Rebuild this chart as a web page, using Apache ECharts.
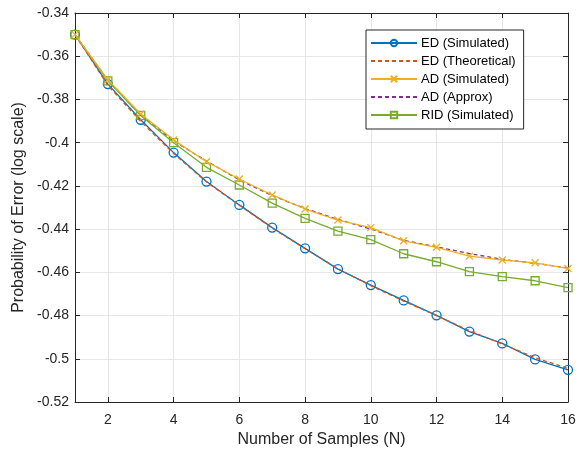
<!DOCTYPE html>
<html>
<head>
<meta charset="utf-8">
<script src="https://cdn.jsdelivr.net/npm/echarts@6/dist/echarts.min.js"></script>
<style>html,body{margin:0;padding:0;background:#fff}#c{width:581px;height:449px}</style>
</head>
<body>
<div id="c"></div>
<script>
const N = [1,2,3,4,5,6,7,8,9,10,11,12,13,14,15,16];
const xTicks = [2,4,6,8,10,12,14,16];
const edSim = [-0.350,-0.3729,-0.3894,-0.4046,-0.4180,-0.4288,-0.4393,-0.4489,-0.4585,-0.4659,-0.4730,-0.4799,-0.4874,-0.4929,-0.5003,-0.5051];
const edTheo = [-0.350,-0.3735,-0.3902,-0.4050,-0.4182,-0.4290,-0.4395,-0.4491,-0.4583,-0.4662,-0.4733,-0.4800,-0.4870,-0.4932,-0.4995,-0.5045];
const adSim = [-0.350,-0.3709,-0.3867,-0.3987,-0.4088,-0.4168,-0.4242,-0.4307,-0.4358,-0.4393,-0.4454,-0.4484,-0.4525,-0.4543,-0.4556,-0.4582];
const adApprox = [-0.350,-0.3712,-0.3872,-0.3992,-0.4085,-0.4172,-0.4245,-0.4305,-0.4355,-0.4400,-0.4452,-0.4482,-0.4513,-0.4540,-0.4558,-0.4580];
const ridSim = [-0.350,-0.3714,-0.3874,-0.4000,-0.4114,-0.4196,-0.4280,-0.4350,-0.4409,-0.4449,-0.4514,-0.4551,-0.4597,-0.4620,-0.4639,-0.4671];

const font = 'Helvetica, Arial, "Liberation Sans", sans-serif';
const pair = a => N.map((n,i)=>[n,a[i]]);
const chart = echarts.init(document.getElementById('c'));
const axisLine = {show:true, lineStyle:{color:'#262626', width:1}};
const xBase = {type:'value', min:1, max:16, gridIndex:0,
  axisTick:{show:true, inside:true, length:5, customValues:xTicks, lineStyle:{color:'#262626'}},
  axisLine: axisLine};
const yBase = {type:'value', min:-0.52, max:-0.34, interval:0.02,
  axisTick:{show:true, inside:true, length:5, lineStyle:{color:'#262626'}},
  axisLine: axisLine};
chart.setOption({
  animation:false,
  backgroundColor:'#fff',
  textStyle:{fontFamily:font},
  grid:{left:75, right:13, top:13, bottom:47, containLabel:false, outerBoundsMode:'none'},
  xAxis:[
    Object.assign({}, xBase, {position:'bottom',
      name:'Number of Samples (N)', nameLocation:'middle', nameGap:29,
      nameTextStyle:{fontSize:16, color:'#262626', fontFamily:font},
      axisLabel:{show:true, customValues:xTicks, fontSize:14, color:'#262626', margin:11, fontFamily:font},
      splitLine:{show:true, lineStyle:{color:'#e6e6e6', width:1}}}),
    Object.assign({}, xBase, {position:'top', axisLabel:{show:false}, splitLine:{show:false}})
  ],
  yAxis:[
    Object.assign({}, yBase, {position:'left',
      name:'Probability of Error (log scale)', nameLocation:'middle', nameGap:42,
      nameTextStyle:{fontSize:16, color:'#262626', fontFamily:font},
      axisLabel:{show:true, fontSize:14, color:'#262626', margin:6, fontFamily:font,
        formatter: v => String(Math.round(v*100)/100)},
      splitLine:{show:true, lineStyle:{color:'#e6e6e6', width:1}}}),
    Object.assign({}, yBase, {position:'right', axisLabel:{show:false}, splitLine:{show:false}})
  ],
  legend:{
    orient:'vertical', left:366, top:30,
    padding:[6,8,7,4], itemGap:4, itemWidth:46, itemHeight:8,
    backgroundColor:'#fff', borderColor:'#262626', borderWidth:1, borderRadius:0,
    textStyle:{fontSize:13, lineHeight:14, color:'#000', fontFamily:font, padding:[0,0,0,-1]},
    data:[
      {name:'ED (Simulated)'},
      {name:'ED (Theoretical)', itemStyle:{opacity:0}},
      {name:'AD (Simulated)'},
      {name:'AD (Approx)', itemStyle:{opacity:0}},
      {name:'RID (Simulated)'}
    ]
  },
  series:[
    {name:'ED (Theoretical)', type:'line', data:pair(edTheo), symbol:'none', z:3,
      lineStyle:{color:'#D95319', width:1.3, type:[4,3]}, itemStyle:{color:'#D95319'}},
    {name:'ED (Simulated)', type:'line', data:pair(edSim), symbol:'circle', symbolSize:9, z:2,
      lineStyle:{color:'#0072BD', width:1.3}, itemStyle:{color:'rgba(0,0,0,0)', borderColor:'#0072BD', borderWidth:1.3}},
    {name:'AD (Approx)', type:'line', data:pair(adApprox), symbol:'none', z:2,
      lineStyle:{color:'#7E2F8E', width:1.3, type:[4,3]}, itemStyle:{color:'#7E2F8E'}},
    {name:'AD (Simulated)', type:'line', data:pair(adSim), symbol:'path://M0,0L10,10M10,0L0,10', symbolSize:7, z:3,
      lineStyle:{color:'#EDB120', width:1.3}, itemStyle:{color:'rgba(0,0,0,0)', borderColor:'#EDB120', borderWidth:1.3}},
    {name:'RID (Simulated)', type:'line', data:pair(ridSim), symbol:'rect', symbolSize:8, z:2,
      lineStyle:{color:'#77AC30', width:1.3}, itemStyle:{color:'rgba(0,0,0,0)', borderColor:'#77AC30', borderWidth:1.3}}
  ]
});
</script>
</body>
</html>
